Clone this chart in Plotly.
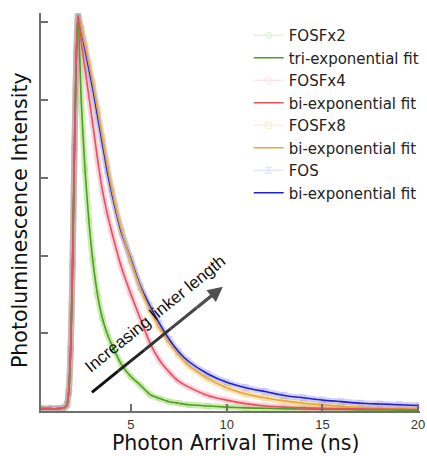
import plotly.graph_objects as go

# Photon arrival time (ns)
t_ns = [0.3, 0.8, 1.2, 1.5, 1.65, 1.75, 1.85, 1.95, 2.05, 2.15,
        2.24, 2.4, 2.6, 2.8, 3.0, 3.25, 3.5, 3.75, 4.0, 4.5,
        5.0, 5.5, 6.0, 6.5, 7.0, 7.5, 8.0, 9.0, 10, 11,
        12, 13, 14, 15, 16, 17, 18, 19, 20]

# Shared instrument-limited rising edge (up to the peak at 2.24 ns)
rise = [0.03, 0.03, 0.03, 0.04, 0.08, 0.25, 0.8, 1.9, 3.4, 4.6, 5.08]

# Decays after the peak, one list per sample
decay_fosfx2 = [4.0, 3.1, 2.45, 1.95, 1.5, 1.2, 1.0, 0.85, 0.6,
                0.44, 0.33, 0.21, 0.16, 0.12, 0.1, 0.08, 0.065, 0.05, 0.04,
                0.035, 0.03, 0.025, 0.02, 0.02, 0.015, 0.015, 0.01, 0.01]
decay_fosfx4 = [4.75, 4.4, 4.05, 3.7, 3.25, 2.85, 2.55, 2.3, 1.85,
                1.5, 1.18, 0.87, 0.65, 0.5, 0.38, 0.31, 0.2, 0.14, 0.095,
                0.065, 0.05, 0.04, 0.035, 0.03, 0.027, 0.025, 0.022, 0.02]
decay_fosfx8 = [4.92, 4.7, 4.47, 4.22, 3.88, 3.52, 3.17, 2.85, 2.33,
                1.93, 1.58, 1.3, 1.07, 0.88, 0.72, 0.59, 0.42, 0.3, 0.22,
                0.17, 0.13, 0.1, 0.08, 0.06, 0.045, 0.035, 0.025, 0.02]
decay_fos = [4.9, 4.65, 4.4, 4.15, 3.8, 3.45, 3.1, 2.8, 2.3,
             1.95, 1.6, 1.35, 1.12, 0.92, 0.76, 0.64, 0.48, 0.37, 0.3,
             0.25, 0.2, 0.17, 0.14, 0.12, 0.1, 0.09, 0.08, 0.07]

samples = ["FOSFx2", "FOSFx4", "FOSFx8", "FOS"]
fit_names = ["tri-exponential fit", "bi-exponential fit",
             "bi-exponential fit", "bi-exponential fit"]
decays = [decay_fosfx2, decay_fosfx4, decay_fosfx8, decay_fos]
data_colors = ["#8fd84c", "#f3a0b4", "#f0c060", "#9c9cf4"]
fit_colors = ["#4e9e2a", "#e8505c", "#e6a832", "#2020d0"]
symbols = ["circle-open", "diamond-open", "square-open", "hourglass-open"]
# fits are stacked so the FOSFx4 (red) curve sits on top at the rising edge
fit_draw_order = [3, 2, 0, 1]

# "increasing linker length" arrow: tail and tip in data units
arrow_tail = (2.96, 0.24)
arrow_tip = (9.8, 1.6)
arrow_shades = ["#111111", "#222222", "#333333", "#444444", "#505050"]

FONT = "Liberation Sans, Arial, Helvetica, sans-serif"
TITLE_FONT = "DejaVu Sans, Verdana, sans-serif"

fig = go.Figure()

# measured data: soft halo plus faint open markers
for i, name in enumerate(samples):
    y = rise + decays[i]
    fig.add_trace(go.Scatter(
        x=t_ns, y=y, mode="lines", showlegend=False, hoverinfo="skip",
        line=dict(color=data_colors[i], width=6, shape="spline", smoothing=0.6),
        opacity=0.45))
for i, name in enumerate(samples):
    y = rise + decays[i]
    fig.add_trace(go.Scatter(
        x=t_ns, y=y, mode="lines+markers", name=name,
        legendrank=10 + 2 * i,
        line=dict(color=data_colors[i], width=1, shape="spline", smoothing=0.6),
        marker=dict(symbol=symbols[i], size=6, color=data_colors[i]),
        opacity=0.35))

# fitted decays
for i in fit_draw_order:
    y = rise + decays[i]
    fig.add_trace(go.Scatter(
        x=t_ns, y=y, mode="lines", name=fit_names[i],
        legendrank=11 + 2 * i,
        line=dict(color=fit_colors[i], width=1.6, shape="spline", smoothing=0.6)))

axis_color = "#6e6e6e"
fig.update_xaxes(
    range=[0.3, 20.1], showline=True, linecolor=axis_color, linewidth=2,
    ticks="inside", ticklen=7, tickwidth=1.5, tickcolor=axis_color,
    tickvals=[5, 10, 15, 20], showgrid=False, zeroline=False,
    tickfont=dict(family=FONT, size=13, color="#333333"))
fig.update_yaxes(
    range=[0, 5.12], showline=True, linecolor=axis_color, linewidth=2,
    ticks="inside", ticklen=7, tickwidth=1.5, tickcolor=axis_color,
    tickvals=[1, 2, 3, 4, 5], showticklabels=False, showgrid=False,
    zeroline=False)

# shaft shaded from black at the tail to grey at the head
n = len(arrow_shades)
(x0, y0), (x1, y1) = arrow_tail, arrow_tip
for k, shade in enumerate(arrow_shades):
    fa, fb = k / n, (k + 1) / n
    fig.add_shape(
        type="line", xref="x", yref="y",
        x0=x0 + (x1 - x0) * fa, y0=y0 + (y1 - y0) * fa,
        x1=x0 + (x1 - x0) * min(fb, 0.95), y1=y0 + (y1 - y0) * min(fb, 0.95),
        line=dict(color=shade, width=3))
fig.add_annotation(
    x=x1, y=y1, ax=x0 + (x1 - x0) * 0.8, ay=y0 + (y1 - y0) * 0.8,
    xref="x", yref="y", axref="x", ayref="y",
    showarrow=True, arrowhead=2, arrowsize=1, arrowwidth=3,
    arrowcolor=arrow_shades[-1], text="")
fig.add_annotation(
    x=6.3, y=1.25, xref="x", yref="y", showarrow=False,
    text="Increasing linker length", textangle=-39,
    font=dict(family="Liberation Sans Narrow, Arial Narrow, " + FONT,
              size=17, color="#111111"))

# axis titles
fig.add_annotation(
    x=0.5, y=0, xref="paper", yref="paper", yanchor="bottom", yshift=-46,
    xshift=5, showarrow=False, text="Photon Arrival Time (ns)",
    font=dict(family=TITLE_FONT, size=20.5, color="#111111"))
fig.add_annotation(
    x=0, y=0.5, xref="paper", yref="paper", xanchor="right", xshift=-7,
    yshift=-8, showarrow=False, text="Photoluminescence Intensity",
    textangle=-90, font=dict(family=TITLE_FONT, size=20.5, color="#111111"))

fig.update_layout(
    width=427, height=456,
    margin=dict(l=41, r=7, t=13, b=45, autoexpand=False),
    paper_bgcolor="white", plot_bgcolor="white",
    legend=dict(x=0.548, y=0.985, xanchor="left", yanchor="top",
                bgcolor="rgba(0,0,0,0)", borderwidth=0,
                font=dict(family="DejaVu Sans, sans-serif", size=15,
                          color="#222222"),
                tracegroupgap=0, itemwidth=30),
)

fig.write_html("out.html")
